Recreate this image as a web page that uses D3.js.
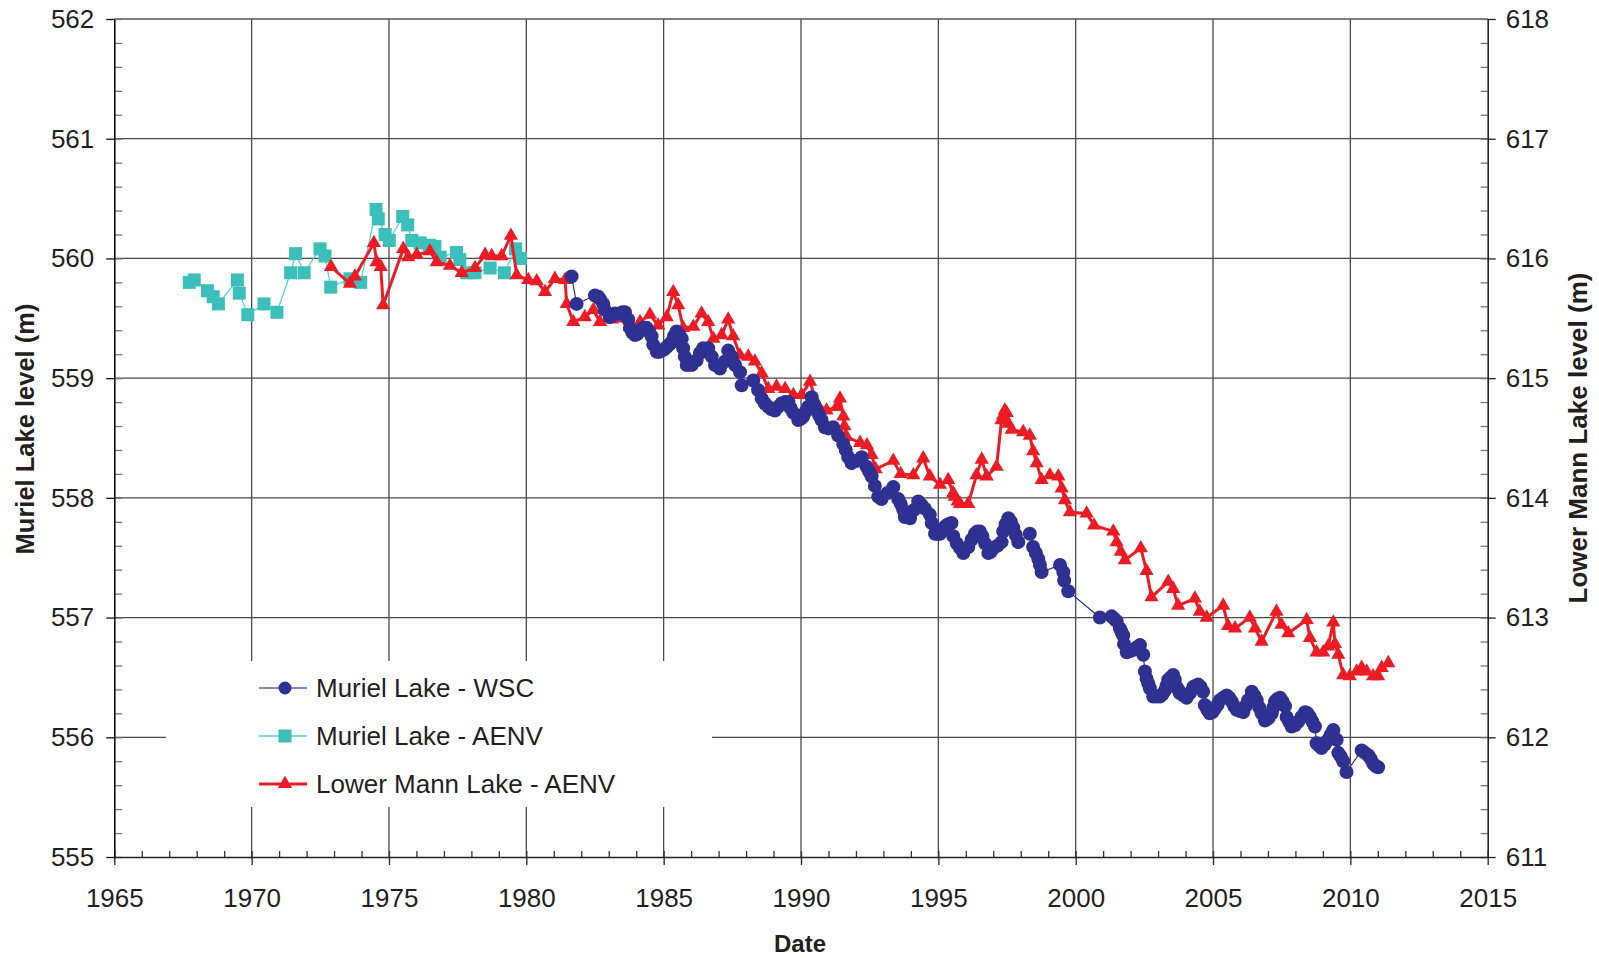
<!DOCTYPE html>
<html>
<head>
<meta charset="utf-8">
<script src="https://cdn.jsdelivr.net/npm/d3@7"></script>
<style>
  html, body { margin: 0; padding: 0; background: #fff; }
  svg { display: block; font-family: "Liberation Sans", Arial, sans-serif; }
</style>
</head>
<body>
<svg id="chart" width="1599" height="958"></svg>
<script>
// Muriel Lake – Water Survey of Canada record (decimal year, level m)
const wscYears = [1981.65,1981.83,1982.50,1982.62,1982.68,1982.80,1982.86,1983.04,1983.13,1983.23,1983.41,1983.50,1983.59,1983.71,1983.77,1983.86,1983.96,1984.05,1984.14,1984.26,1984.38,1984.47,1984.56,1984.62,1984.75,1984.84,1984.93,1985.02,1985.11,1985.20,1985.29,1985.38,1985.47,1985.56,1985.66,1985.71,1985.77,1985.84,1986.02,1986.20,1986.32,1986.44,1986.62,1986.75,1986.87,1987.05,1987.23,1987.35,1987.48,1987.60,1987.78,1987.84,1988.26,1988.44,1988.57,1988.68,1988.81,1988.93,1989.05,1989.17,1989.30,1989.42,1989.54,1989.62,1989.72,1989.90,1989.99,1990.08,1990.17,1990.26,1990.39,1990.48,1990.57,1990.66,1990.75,1990.87,1991.00,1991.17,1991.35,1991.54,1991.63,1991.72,1991.84,1992.05,1992.21,1992.39,1992.48,1992.57,1992.69,1992.81,1992.93,1993.15,1993.36,1993.54,1993.63,1993.72,1993.78,1993.97,1994.12,1994.27,1994.39,1994.51,1994.69,1994.76,1994.88,1994.97,1995.06,1995.15,1995.24,1995.36,1995.48,1995.54,1995.67,1995.79,1995.91,1996.09,1996.21,1996.33,1996.42,1996.51,1996.60,1996.70,1996.82,1996.91,1997.00,1997.15,1997.30,1997.36,1997.45,1997.55,1997.64,1997.73,1997.82,1997.91,1998.33,1998.45,1998.55,1998.64,1998.70,1998.76,1999.43,1999.55,1999.58,1999.73,2000.88,2001.31,2001.40,2001.49,2001.61,2001.67,2001.73,2001.76,2001.86,2001.98,2002.10,2002.22,2002.34,2002.46,2002.52,2002.58,2002.64,2002.70,2002.82,2002.95,2003.07,2003.16,2003.25,2003.31,2003.37,2003.46,2003.55,2003.61,2003.67,2003.73,2003.79,2003.92,2004.04,2004.16,2004.28,2004.37,2004.46,2004.55,2004.64,2004.70,2004.79,2004.88,2004.98,2005.07,2005.16,2005.25,2005.37,2005.50,2005.59,2005.68,2005.77,2005.86,2005.98,2006.10,2006.19,2006.28,2006.41,2006.50,2006.59,2006.68,2006.77,2006.89,2007.02,2007.14,2007.20,2007.26,2007.35,2007.44,2007.53,2007.62,2007.68,2007.77,2007.86,2007.98,2008.10,2008.22,2008.35,2008.44,2008.53,2008.62,2008.71,2008.77,2008.86,2008.95,2009.07,2009.19,2009.28,2009.38,2009.50,2009.56,2009.65,2009.74,2009.86,2010.41,2010.53,2010.65,2010.74,2010.83,2010.92,2011.01];
const wscLevels = [559.85,559.62,559.69,559.68,559.66,559.62,559.57,559.51,559.52,559.54,559.54,559.55,559.55,559.49,559.42,559.38,559.36,559.37,559.40,559.42,559.42,559.39,559.35,559.28,559.22,559.22,559.23,559.24,559.26,559.28,559.30,559.35,559.39,559.37,559.33,559.25,559.18,559.11,559.11,559.15,559.21,559.25,559.25,559.18,559.11,559.08,559.14,559.23,559.18,559.11,559.05,558.94,558.98,558.90,558.83,558.79,558.76,558.74,558.73,558.76,558.79,558.80,558.80,558.75,558.71,558.65,558.66,558.68,558.72,558.76,558.84,558.78,558.73,558.69,558.65,558.59,558.58,558.59,558.52,558.45,558.40,558.34,558.29,558.31,558.34,558.26,558.22,558.18,558.10,558.01,557.99,558.04,558.09,557.99,557.95,557.90,557.84,557.83,557.90,557.97,557.94,557.91,557.86,557.79,557.70,557.70,557.70,557.73,557.76,557.78,557.79,557.68,557.62,557.58,557.54,557.59,557.65,557.70,557.72,557.72,557.68,557.62,557.54,557.55,557.58,557.60,557.63,557.72,557.78,557.83,557.80,557.75,557.69,557.63,557.70,557.59,557.54,557.49,557.44,557.38,557.44,557.38,557.31,557.22,557.00,557.01,556.99,556.97,556.91,556.88,556.85,556.78,556.71,556.72,556.73,556.75,556.77,556.69,556.55,556.49,556.45,556.41,556.34,556.34,556.34,556.36,556.39,556.43,556.48,556.50,556.52,556.48,556.42,556.40,556.37,556.35,556.33,556.37,556.42,556.43,556.44,556.42,556.38,556.27,556.23,556.20,556.21,556.24,556.27,556.31,556.33,556.35,556.33,556.30,556.26,556.23,556.22,556.21,556.26,556.31,556.38,556.35,556.31,556.25,556.20,556.14,556.16,556.20,556.25,556.30,556.32,556.33,556.30,556.26,556.17,556.13,556.09,556.10,556.13,556.17,556.21,556.20,556.17,556.13,556.09,555.95,555.93,555.91,555.94,555.98,556.02,556.06,555.98,555.87,555.84,555.80,555.71,555.89,555.87,555.85,555.82,555.78,555.76,555.75];

// Muriel Lake – Alberta Environment record
const aenvYears = [1967.73,1967.91,1968.39,1968.60,1968.79,1969.48,1969.55,1969.86,1970.45,1970.92,1971.42,1971.60,1971.91,1972.49,1972.67,1972.88,1973.58,1973.97,1974.53,1974.61,1974.86,1975.01,1975.50,1975.68,1975.83,1976.13,1976.47,1976.67,1976.86,1977.46,1977.58,1977.83,1978.13,1978.68,1979.20,1979.61,1979.79];
const aenvLevels = [559.80,559.82,559.73,559.68,559.62,559.82,559.71,559.53,559.62,559.55,559.88,560.04,559.88,560.08,560.02,559.76,559.83,559.80,560.41,560.33,560.20,560.15,560.35,560.28,560.15,560.13,560.11,560.10,560.01,560.05,559.99,559.88,559.88,559.92,559.88,560.08,560.00];

// Lower Mann Lake – Alberta Environment record (right-hand axis)
const mannYears = [1972.89,1973.58,1973.76,1974.45,1974.55,1974.70,1974.79,1975.52,1975.70,1976.01,1976.49,1976.74,1977.22,1977.65,1978.13,1978.50,1978.74,1979.10,1979.44,1979.65,1980.07,1980.38,1980.68,1981.04,1981.41,1981.47,1981.71,1982.13,1982.44,1982.68,1983.11,1983.41,1983.77,1984.14,1984.50,1984.80,1985.11,1985.35,1985.53,1985.71,1986.08,1986.38,1986.62,1986.81,1987.11,1987.35,1987.53,1987.78,1988.08,1988.32,1988.57,1988.81,1989.11,1989.42,1989.72,1990.02,1990.33,1990.57,1990.93,1991.30,1991.42,1991.54,1991.58,1991.66,1992.15,1992.40,1992.57,1992.72,1993.36,1993.63,1994.09,1994.45,1994.69,1995.06,1995.36,1995.54,1995.60,1995.70,1995.79,1996.09,1996.39,1996.58,1996.76,1997.12,1997.30,1997.36,1997.42,1997.49,1997.55,1997.67,1998.09,1998.33,1998.45,1998.58,1998.76,1999.06,1999.37,1999.49,1999.61,1999.79,2000.40,2000.67,2001.37,2001.49,2001.64,2001.79,2002.37,2002.58,2002.76,2003.37,2003.55,2003.73,2004.34,2004.52,2004.77,2005.37,2005.55,2005.80,2006.34,2006.53,2006.77,2007.31,2007.49,2007.74,2008.41,2008.53,2008.77,2009.01,2009.19,2009.38,2009.44,2009.56,2009.74,2009.98,2010.23,2010.41,2010.59,2010.83,2011.01,2011.14,2011.38];
const mannLevels = [615.93,615.79,615.85,616.13,615.97,615.93,615.61,616.08,616.01,616.03,616.06,615.97,615.94,615.88,615.92,616.03,616.02,616.02,616.19,615.86,615.82,615.81,615.72,615.83,615.82,615.62,615.47,615.51,615.57,615.47,615.49,615.50,615.43,615.47,615.53,615.44,615.51,615.72,615.61,615.42,615.43,615.54,615.47,615.33,615.36,615.49,615.35,615.19,615.18,615.14,615.04,614.91,614.93,614.91,614.86,614.86,614.97,614.79,614.73,614.76,614.83,614.68,614.60,614.51,614.46,614.44,614.36,614.24,614.31,614.20,614.19,614.33,614.18,614.11,614.15,614.04,614.01,613.97,613.95,613.95,614.19,614.32,614.18,614.26,614.65,614.69,614.73,614.71,614.62,614.57,614.55,614.52,614.39,614.29,614.15,614.19,614.18,614.08,613.98,613.88,613.87,613.77,613.72,613.63,613.55,613.48,613.58,613.39,613.17,613.30,613.24,613.10,613.16,613.05,613.00,613.10,612.93,612.91,613.00,612.91,612.80,613.05,612.94,612.87,612.98,612.83,612.71,612.71,612.76,612.96,612.78,612.69,612.52,612.51,612.55,612.58,612.55,612.51,612.51,612.58,612.62];

// Axis ticks
const xTicks = [1965,1970,1975,1980,1985,1990,1995,2000,2005,2010,2015];
const yTicksLeft = [555,556,557,558,559,560,561,562];
const yTicksRight = [611,612,613,614,615,616,617,618];
const legendLabels = ["Muriel Lake - WSC", "Muriel Lake - AENV", "Lower Mann Lake - AENV"];

const colBlue = "#2e3192", colCyan = "#3bbfbb", colCyanLine = "#4fd0d0", colRed = "#ed1c24";
const gridCol = "#4a4a4a", inkCol = "#231f20";

const svg = d3.select("#chart");
const L = 114.3, R = 1487.7, T = 19, B = 857;

const x = d3.scaleLinear().domain([1965, 2015]).range([L, R]);
const yL = d3.scaleLinear().domain([555, 562]).range([B, T]);
const yR = d3.scaleLinear().domain([611, 618]).range([B, T]);

// gridlines
const grid = svg.append("g");
grid.selectAll("line.vx").data(xTicks.slice(1, -1)).join("line")
  .attr("x1", d => x(d)).attr("x2", d => x(d)).attr("y1", T).attr("y2", B)
  .attr("stroke", gridCol).attr("stroke-width", 1.3);
grid.selectAll("line.hy").data(yTicksLeft.slice(1, -1)).join("line")
  .attr("x1", L).attr("x2", R).attr("y1", d => yL(d)).attr("y2", d => yL(d))
  .attr("stroke", gridCol).attr("stroke-width", 1.3);
// top border
grid.append("line").attr("x1", L).attr("x2", R).attr("y1", T).attr("y2", T)
  .attr("stroke", "#555").attr("stroke-width", 1.6);

// legend background blanks the grid behind it
const legend = svg.append("g");
legend.append("rect").attr("x", 166).attr("y", 661).attr("width", 546).attr("height", 146).attr("fill", "#fff");

function styleAxis(g, stroke) {
  g.selectAll(".domain").attr("stroke", stroke).attr("stroke-width", 1.6);
  g.selectAll(".tick line").attr("stroke", stroke).attr("stroke-width", 1.3);
  g.selectAll(".tick text").attr("font-size", 26).attr("fill", inkCol)
    .attr("font-family", "'Liberation Sans', Arial, sans-serif");
}

// minor ticks
const minorY = d3.range(555, 562.001, 0.2);
const minorYR = d3.range(611, 618.001, 0.2);
const minorX = d3.range(1965, 2015.001, 1);

svg.append("g").attr("transform", `translate(${L},0)`)
  .call(d3.axisRight(yL).tickValues(minorY).tickSize(8).tickFormat(""))
  .call(g => { g.select(".domain").remove(); g.selectAll("line").attr("stroke", "#777").attr("stroke-width", 1.3); });
svg.append("g").attr("transform", `translate(${R},0)`)
  .call(d3.axisLeft(yR).tickValues(minorYR).tickSize(7).tickFormat(""))
  .call(g => { g.select(".domain").remove(); g.selectAll("line").attr("stroke", "#777").attr("stroke-width", 1.3); });
svg.append("g").attr("transform", `translate(0,${B})`)
  .call(d3.axisTop(x).tickValues(minorX).tickSize(6).tickFormat(""))
  .call(g => { g.select(".domain").remove(); g.selectAll("line").attr("stroke", "#333").attr("stroke-width", 1.3); });

// major axes
svg.append("g").attr("transform", `translate(${L},0)`)
  .call(d3.axisLeft(yL).tickValues(yTicksLeft).tickSize(8).tickPadding(12).tickFormat(d3.format("d")).tickSizeOuter(0))
  .call(g => styleAxis(g, "#111"));
svg.append("g").attr("transform", `translate(${R},0)`)
  .call(d3.axisRight(yR).tickValues(yTicksRight).tickSize(8).tickPadding(10).tickFormat(d3.format("d")).tickSizeOuter(0))
  .call(g => styleAxis(g, "#222"));
svg.append("g").attr("transform", `translate(0,${B})`)
  .call(d3.axisBottom(x).tickValues(xTicks).tickSize(8).tickPadding(24).tickFormat(d3.format("d")).tickSizeOuter(0))
  .call(g => styleAxis(g, "#222"));

// axis titles
svg.append("text").attr("x", 800).attr("y", 952).attr("text-anchor", "middle")
  .attr("font-size", 24).attr("font-weight", "bold").attr("fill", inkCol).text("Date");
svg.append("text").attr("transform", "translate(34,429) rotate(-90)").attr("text-anchor", "middle")
  .attr("font-size", 25.5).attr("font-weight", "bold").attr("fill", inkCol).text("Muriel Lake level (m)");
svg.append("text").attr("transform", "translate(1587,438) rotate(-90)").attr("text-anchor", "middle")
  .attr("font-size", 26).attr("font-weight", "bold").attr("fill", inkCol).text("Lower Mann Lake level (m)");

// series
const wsc = wscYears.map((t, i) => [t, wscLevels[i]]);
const aenv = aenvYears.map((t, i) => [t, aenvLevels[i]]);
const mann = mannYears.map((t, i) => [t, mannLevels[i]]);

const plot = svg.append("g");
const lineL = d3.line().x(d => x(d[0])).y(d => yL(d[1]));
const lineR = d3.line().x(d => x(d[0])).y(d => yR(d[1]));

const triangle = d3.symbol().type(d3.symbolTriangle).size(88);

// Muriel Lake AENV
plot.append("path").datum(aenv).attr("d", lineL).attr("fill", "none")
  .attr("stroke", colCyanLine).attr("stroke-width", 1.2);
plot.selectAll("rect.aenv").data(aenv).join("rect")
  .attr("x", d => x(d[0]) - 6.5).attr("y", d => yL(d[1]) - 6.5)
  .attr("width", 13).attr("height", 13).attr("fill", colCyan);

// Lower Mann Lake
plot.append("path").datum(mann).attr("d", lineR).attr("fill", "none")
  .attr("stroke", colRed).attr("stroke-width", 3);
plot.selectAll("path.mann").data(mann).join("path")
  .attr("d", triangle).attr("transform", d => `translate(${x(d[0])},${yR(d[1])})`)
  .attr("fill", colRed);

// Muriel Lake WSC
plot.append("path").datum(wsc).attr("d", lineL).attr("fill", "none")
  .attr("stroke", colBlue).attr("stroke-width", 1.2);
plot.selectAll("circle.wsc").data(wsc).join("circle")
  .attr("cx", d => x(d[0])).attr("cy", d => yL(d[1])).attr("r", 7)
  .attr("fill", colBlue);

// legend entries
const rows = [
  { label: legendLabels[0], color: colBlue, line: "#5a5fb0", w: 1.4, mark: "circle" },
  { label: legendLabels[1], color: colCyan, line: colCyanLine, w: 1.4, mark: "square" },
  { label: legendLabels[2], color: colRed, line: colRed, w: 3, mark: "triangle" }
];
rows.forEach((r, i) => {
  const cy = 688 + i * 48;
  legend.append("line").attr("x1", 259).attr("x2", 307).attr("y1", cy).attr("y2", cy)
    .attr("stroke", r.line).attr("stroke-width", r.w);
  if (r.mark === "circle") {
    legend.append("circle").attr("cx", 285).attr("cy", cy).attr("r", 6.5).attr("fill", r.color);
  } else if (r.mark === "square") {
    legend.append("rect").attr("x", 278.5).attr("y", cy - 6.5).attr("width", 13).attr("height", 13).attr("fill", r.color);
  } else {
    legend.append("path").attr("d", triangle).attr("transform", `translate(285,${cy})`).attr("fill", r.color);
  }
  legend.append("text").attr("x", 316).attr("y", cy).attr("dy", "0.36em")
    .attr("font-size", 26).attr("fill", inkCol).text(r.label);
});
</script>
</body>
</html>
